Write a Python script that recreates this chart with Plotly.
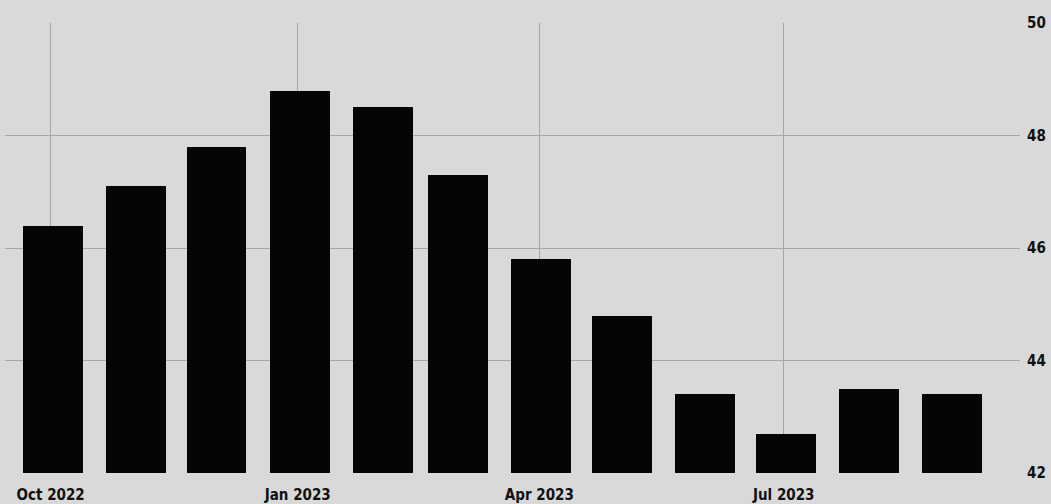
import plotly.graph_objects as go

months = ["2022-10-01", "2022-11-01", "2022-12-01", "2023-01-01", "2023-02-01", "2023-03-01",
          "2023-04-01", "2023-05-01", "2023-06-01", "2023-07-01", "2023-08-01", "2023-09-01"]
pmi = [46.4, 47.1, 47.8, 48.8, 48.5, 47.3, 45.8, 44.8, 43.4, 42.7, 43.5, 43.4]
y_base = 42
y_ticks = [42, 44, 46, 48, 50]

BG = "#d9d9d9"
GRID = "#a6a6a6"
FONT = dict(family="DejaVu Sans Condensed, Liberation Sans Narrow, Arial", size=15,
            color="#111111", weight="bold")

fig = go.Figure()
fig.add_trace(go.Bar(
    x=months,
    y=[v - y_base for v in pmi],
    base=y_base,
    marker=dict(color="#050505", line=dict(width=0)),
    width=22.3 * 86400000,
    offset=-10.4 * 86400000,
    showlegend=False,
))

fig.update_layout(
    width=1051, height=504,
    margin=dict(l=5, r=31, t=23, b=31, autoexpand=False),
    paper_bgcolor=BG, plot_bgcolor=BG,
    bargap=0,
    font=FONT,
    xaxis=dict(
        type="date",
        range=["2022-09-14", "2023-09-27"],
        tick0="2022-10-01", dtick="M3",
        tickformat="%b %Y",
        showgrid=True, gridcolor=GRID, gridwidth=1,
        showline=False, zeroline=False,
        ticks="", ticklabelstandoff=11,
        tickfont=FONT, automargin=False,
    ),
    yaxis=dict(
        side="right",
        range=[42, 50],
        tickvals=y_ticks,
        showgrid=True, gridcolor=GRID, gridwidth=1,
        showline=False, zeroline=False,
        ticks="", ticklabelstandoff=6,
        tickfont=FONT, automargin=False,
    ),
)

fig.write_html(
    "out.html",
    config={"displayModeBar": False},
    post_script="document.body.style.margin='0';document.body.style.background='%s';" % BG,
)
